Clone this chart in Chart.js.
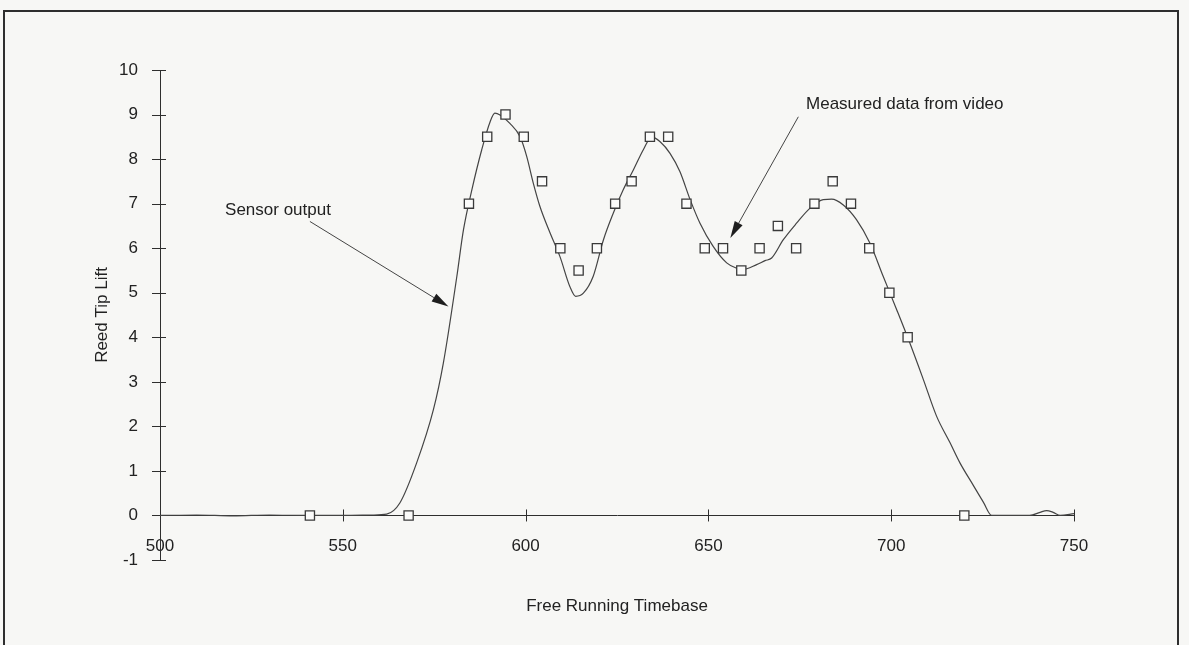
<!DOCTYPE html>
<html>
<head>
<meta charset="utf-8">
<script src="https://cdn.jsdelivr.net/npm/chart.js@4"></script>
<style>
  html, body { margin: 0; padding: 0; background: #f7f7f5; }
  #wrap { width: 1189px; height: 645px; }
</style>
</head>
<body>
<div id="wrap"><canvas id="grafico" width="1189" height="645"></canvas></div>
<script>
// sensor trace: time base vs reed tip lift
const sensorT = [500, 510, 520, 530, 540, 550, 558, 562, 565.6, 570.2, 574.8, 577.5, 581.2, 583.0, 585.3, 588.0, 590.3, 591.6, 593.0, 595.7, 598.5, 600.3, 602.1, 603.9, 606.7, 609.4, 612.1, 613.7, 615.8, 618.5, 621.3, 624.0, 626.7, 629.5, 632.2, 634.5, 636.8, 639.5, 642.2, 645.0, 647.7, 651.3, 655.0, 657.7, 659.3, 663.2, 665.5, 667.3, 670.5, 674.1, 677.8, 681.4, 683.7, 686.9, 690.5, 694.2, 697.8, 701.5, 705.1, 708.8, 712.4, 716.1, 718.8, 722.5, 725.2, 727.5, 731.6, 737.9, 740.7, 742.5, 744.3, 746.2, 750];
const sensorLift = [0, 0.01, -0.01, 0.01, 0, 0, 0.01, 0.03, 0.28, 1.18, 2.38, 3.42, 5.37, 6.41, 7.31, 8.21, 8.84, 9.03, 8.99, 8.80, 8.50, 8.06, 7.46, 6.94, 6.34, 5.81, 5.14, 4.92, 4.99, 5.37, 6.19, 6.79, 7.31, 7.76, 8.21, 8.50, 8.39, 8.13, 7.72, 7.09, 6.56, 6.04, 5.67, 5.55, 5.52, 5.63, 5.72, 5.78, 6.19, 6.56, 6.90, 7.09, 7.10, 6.97, 6.64, 6.11, 5.37, 4.62, 3.87, 3.05, 2.23, 1.63, 1.18, 0.67, 0.30, 0.0, 0, 0, 0.07, 0.11, 0.07, 0, 0.04];

// values measured from the video frames
const videoT = [541, 568, 584.5, 589.5, 594.5, 599.5, 604.5, 609.5, 614.5, 619.5, 624.5, 629, 634, 639, 644, 649, 654, 659, 664, 669, 674, 679, 684, 689, 694, 699.5, 704.5, 720];
const videoLift = [0, 0, 7, 8.5, 9, 8.5, 7.5, 6, 5.5, 6, 7, 7.5, 8.5, 8.5, 7, 6, 6, 5.5, 6, 6.5, 6, 7, 7.5, 7, 6, 5, 4, 0];

const xTicks = [500, 550, 600, 650, 700, 750];
const yTicks = [-1, 0, 1, 2, 3, 4, 5, 6, 7, 8, 9, 10];

// callouts, in data units: text anchor, arrow start, arrow tip
const notas = [
  { texto: 'Sensor output', x: 517.8, y: 6.86, de: [541.0, 6.6], para: [578.9, 4.69] },
  { texto: 'Measured data from video', x: 676.7, y: 9.24, de: [674.6, 8.95], para: [656.0, 6.23] }
];

const tinta = '#2e2e2e';
const fonte = '"Liberation Sans", Arial, sans-serif';

// outer frame around the whole figure
const moldura = {
  id: 'moldura',
  beforeDraw(chart) {
    const ctx = chart.ctx;
    ctx.save();
    ctx.strokeStyle = tinta;
    ctx.lineWidth = 2;
    ctx.strokeRect(4, 11, 1174, 700);
    ctx.restore();
  }
};

// tick marks that cross both axes
const marcas = {
  id: 'marcas',
  beforeDatasetsDraw(chart) {
    const { ctx, scales: { x, y } } = chart;
    const y0 = y.getPixelForValue(0);
    const x0 = x.getPixelForValue(500);
    ctx.save();
    ctx.strokeStyle = tinta;
    ctx.lineWidth = 1;
    ctx.beginPath();
    xTicks.forEach((v) => {
      const px = Math.round(x.getPixelForValue(v)) + 0.5;
      ctx.moveTo(px, y0 - 6);
      ctx.lineTo(px, y0 + 6);
    });
    yTicks.forEach((v) => {
      const py = Math.round(y.getPixelForValue(v)) + 0.5;
      ctx.moveTo(x0 - 8, py);
      ctx.lineTo(x0 + 6, py);
    });
    ctx.stroke();
    ctx.restore();
  }
};

// callout labels with filled arrowheads
const setas = {
  id: 'setas',
  afterDatasetsDraw(chart) {
    const { ctx, scales: { x, y } } = chart;
    ctx.save();
    ctx.strokeStyle = '#444';
    ctx.lineWidth = 1;
    ctx.font = '17px ' + fonte;
    ctx.textBaseline = 'middle';
    notas.forEach((n) => {
      ctx.fillStyle = '#222';
      ctx.fillText(n.texto, x.getPixelForValue(n.x), y.getPixelForValue(n.y));
      const ax = x.getPixelForValue(n.de[0]), ay = y.getPixelForValue(n.de[1]);
      const bx = x.getPixelForValue(n.para[0]), by = y.getPixelForValue(n.para[1]);
      const ang = Math.atan2(by - ay, bx - ax);
      const comp = 17, meia = 4.5;
      const cx = bx - comp * Math.cos(ang), cy = by - comp * Math.sin(ang);
      ctx.beginPath();
      ctx.moveTo(ax, ay);
      ctx.lineTo(cx, cy);
      ctx.stroke();
      ctx.beginPath();
      ctx.moveTo(bx, by);
      ctx.lineTo(cx + meia * Math.sin(ang), cy - meia * Math.cos(ang));
      ctx.lineTo(cx - meia * Math.sin(ang), cy + meia * Math.cos(ang));
      ctx.closePath();
      ctx.fillStyle = '#1e1e1e';
      ctx.fill();
    });
    ctx.restore();
  }
};

const ctx = document.getElementById('grafico').getContext('2d');

new Chart(ctx, {
  type: 'scatter',
  data: {
    datasets: [{
      label: 'Sensor output',
      data: sensorT.map((t, i) => ({ x: t, y: sensorLift[i] })),
      showLine: true,
      borderColor: '#444',
      borderWidth: 1.2,
      pointRadius: 0,
      cubicInterpolationMode: 'monotone',
      order: 2
    }, {
      label: 'Measured data from video',
      data: videoT.map((t, i) => ({ x: t, y: videoLift[i] })),
      showLine: false,
      pointStyle: 'rect',
      pointRadius: 6.5,
      borderColor: '#3a3a3a',
      borderWidth: 1.3,
      backgroundColor: '#fbfbfa',
      order: 1
    }]
  },
  options: {
    responsive: false,
    animation: false,
    layout: { padding: { left: 0, top: 70, right: 115, bottom: 85 } },
    plugins: {
      legend: { display: false },
      tooltip: { enabled: false }
    },
    scales: {
      x: {
        type: 'linear',
        min: 500,
        max: 750,
        position: { y: 0 },
        afterBuildTicks: (s) => { s.ticks = xTicks.map((v) => ({ value: v })); },
        afterFit: (s) => { s.height = 85; },
        grid: { drawOnChartArea: false, drawTicks: false },
        border: { display: true, color: tinta, width: 1 },
        ticks: { padding: 21, color: '#222', font: { family: fonte, size: 17 } },
        title: {
          display: true,
          text: 'Free Running Timebase',
          color: '#222',
          font: { family: fonte, size: 17 },
          padding: { top: 0, bottom: -16 }
        }
      },
      y: {
        type: 'linear',
        min: -1,
        max: 10,
        position: 'left',
        afterBuildTicks: (s) => { s.ticks = yTicks.map((v) => ({ value: v })); },
        afterFit: (s) => { s.width = 160; },
        grid: { drawOnChartArea: false, drawTicks: false },
        border: { display: true, color: tinta, width: 1 },
        ticks: { padding: 22, color: '#222', font: { family: fonte, size: 17 } },
        title: {
          display: true,
          text: 'Reed Tip Lift',
          color: '#222',
          font: { family: fonte, size: 17 },
          padding: { top: 92, bottom: 0 }
        }
      }
    }
  },
  plugins: [moldura, marcas, setas]
});
</script>
</body>
</html>
